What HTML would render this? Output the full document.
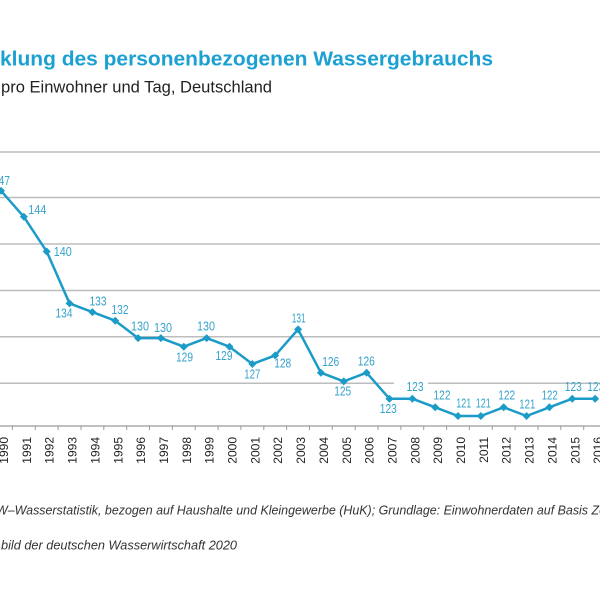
<!DOCTYPE html>
<html><head><meta charset="utf-8"><style>
html,body{margin:0;padding:0;background:#fff;}
svg{display:block;}
</style></head><body>
<svg width="600" height="600" viewBox="0 0 600 600" xmlns="http://www.w3.org/2000/svg" font-family="Liberation Sans, sans-serif">
<rect width="600" height="600" fill="#fff"/>
<text x="0" y="65.5" font-size="20" font-weight="bold" fill="#1ba0d2" textLength="493" lengthAdjust="spacingAndGlyphs">klung des personenbezogenen Wassergebrauchs</text>
<text x="1" y="92.5" font-size="17" fill="#222" textLength="271" lengthAdjust="spacingAndGlyphs">pro Einwohner und Tag, Deutschland</text>
<g stroke="#bdbdbd" stroke-width="1.5">
<line x1="0" y1="152" x2="600" y2="152"/>
<line x1="0" y1="197.5" x2="600" y2="197.5"/>
<line x1="0" y1="244" x2="600" y2="244"/>
<line x1="0" y1="290.5" x2="600" y2="290.5"/>
<line x1="0" y1="336.7" x2="600" y2="336.7"/>
<line x1="0" y1="383.3" x2="600" y2="383.3"/>
</g>
<line x1="0" y1="426" x2="600" y2="426" stroke="#9a9a9a" stroke-width="1.2"/>
<g stroke="#9a9a9a" stroke-width="1">
<line x1="12.4" y1="426" x2="12.4" y2="430"/><line x1="35.3" y1="426" x2="35.3" y2="430"/><line x1="58.1" y1="426" x2="58.1" y2="430"/><line x1="81" y1="426" x2="81" y2="430"/><line x1="103.8" y1="426" x2="103.8" y2="430"/><line x1="126.7" y1="426" x2="126.7" y2="430"/><line x1="149.5" y1="426" x2="149.5" y2="430"/><line x1="172.4" y1="426" x2="172.4" y2="430"/><line x1="195.2" y1="426" x2="195.2" y2="430"/><line x1="218.1" y1="426" x2="218.1" y2="430"/><line x1="240.9" y1="426" x2="240.9" y2="430"/><line x1="263.8" y1="426" x2="263.8" y2="430"/><line x1="286.6" y1="426" x2="286.6" y2="430"/><line x1="309.5" y1="426" x2="309.5" y2="430"/><line x1="332.3" y1="426" x2="332.3" y2="430"/><line x1="355.2" y1="426" x2="355.2" y2="430"/><line x1="378" y1="426" x2="378" y2="430"/><line x1="400.9" y1="426" x2="400.9" y2="430"/><line x1="423.7" y1="426" x2="423.7" y2="430"/><line x1="446.6" y1="426" x2="446.6" y2="430"/><line x1="469.4" y1="426" x2="469.4" y2="430"/><line x1="492.3" y1="426" x2="492.3" y2="430"/><line x1="515.1" y1="426" x2="515.1" y2="430"/><line x1="538" y1="426" x2="538" y2="430"/><line x1="560.8" y1="426" x2="560.8" y2="430"/><line x1="583.7" y1="426" x2="583.7" y2="430"/>
</g>
<g font-size="12" fill="#222" text-anchor="end">
<text transform="translate(8,437) rotate(-90)">1990</text>
<text transform="translate(30.85,437) rotate(-90)">1991</text>
<text transform="translate(53.7,437) rotate(-90)">1992</text>
<text transform="translate(76.55,437) rotate(-90)">1993</text>
<text transform="translate(99.4,437) rotate(-90)">1994</text>
<text transform="translate(122.25,437) rotate(-90)">1995</text>
<text transform="translate(145.1,437) rotate(-90)">1996</text>
<text transform="translate(167.95,437) rotate(-90)">1997</text>
<text transform="translate(190.8,437) rotate(-90)">1998</text>
<text transform="translate(213.65,437) rotate(-90)">1999</text>
<text transform="translate(236.5,437) rotate(-90)">2000</text>
<text transform="translate(259.35,437) rotate(-90)">2001</text>
<text transform="translate(282.2,437) rotate(-90)">2002</text>
<text transform="translate(305.05,437) rotate(-90)">2003</text>
<text transform="translate(327.9,437) rotate(-90)">2004</text>
<text transform="translate(350.75,437) rotate(-90)">2005</text>
<text transform="translate(373.6,437) rotate(-90)">2006</text>
<text transform="translate(396.45,437) rotate(-90)">2007</text>
<text transform="translate(419.3,437) rotate(-90)">2008</text>
<text transform="translate(442.15,437) rotate(-90)">2009</text>
<text transform="translate(465,437) rotate(-90)">2010</text>
<text transform="translate(487.85,437) rotate(-90)">2011</text>
<text transform="translate(510.7,437) rotate(-90)">2012</text>
<text transform="translate(533.55,437) rotate(-90)">2013</text>
<text transform="translate(556.4,437) rotate(-90)">2014</text>
<text transform="translate(579.25,437) rotate(-90)">2015</text>
<text transform="translate(602.1,437) rotate(-90)">2016</text>
</g>
<rect x="394" y="377" width="34" height="16" fill="#fff"/>
<polyline fill="none" stroke="#1b9bc8" stroke-width="2.5" stroke-linejoin="round" points="1,190.8 23.85,216.8 46.7,251.5 69.55,303.4 92.4,312.1 115.25,320.7 138.1,338.1 160.95,338.1 183.8,346.7 206.65,338.1 229.5,346.7 252.35,364 275.2,355.4 298.05,329.4 320.9,372.7 343.75,381.4 366.6,372.7 389.45,398.7 412.3,398.7 435.15,407.3 458,416 480.85,416 503.7,407.3 526.55,416 549.4,407.3 572.25,398.7 595.1,398.7"/>
<g fill="#1b9bc8">
<path d="M1,186.8l4,4l-4,4l-4,-4z"/><path d="M23.85,212.8l4,4l-4,4l-4,-4z"/><path d="M46.7,247.5l4,4l-4,4l-4,-4z"/><path d="M69.55,299.4l4,4l-4,4l-4,-4z"/><path d="M92.4,308.1l4,4l-4,4l-4,-4z"/><path d="M115.25,316.7l4,4l-4,4l-4,-4z"/><path d="M138.1,334.1l4,4l-4,4l-4,-4z"/><path d="M160.95,334.1l4,4l-4,4l-4,-4z"/><path d="M183.8,342.7l4,4l-4,4l-4,-4z"/><path d="M206.65,334.1l4,4l-4,4l-4,-4z"/><path d="M229.5,342.7l4,4l-4,4l-4,-4z"/><path d="M252.35,360l4,4l-4,4l-4,-4z"/><path d="M275.2,351.4l4,4l-4,4l-4,-4z"/><path d="M298.05,325.4l4,4l-4,4l-4,-4z"/><path d="M320.9,368.7l4,4l-4,4l-4,-4z"/><path d="M343.75,377.4l4,4l-4,4l-4,-4z"/><path d="M366.6,368.7l4,4l-4,4l-4,-4z"/><path d="M389.45,394.7l4,4l-4,4l-4,-4z"/><path d="M412.3,394.7l4,4l-4,4l-4,-4z"/><path d="M435.15,403.3l4,4l-4,4l-4,-4z"/><path d="M458,412l4,4l-4,4l-4,-4z"/><path d="M480.85,412l4,4l-4,4l-4,-4z"/><path d="M503.7,403.3l4,4l-4,4l-4,-4z"/><path d="M526.55,412l4,4l-4,4l-4,-4z"/><path d="M549.4,403.3l4,4l-4,4l-4,-4z"/><path d="M572.25,394.7l4,4l-4,4l-4,-4z"/><path d="M595.1,394.7l4,4l-4,4l-4,-4z"/>
</g>
<g font-size="12.5" fill="#35a3cc" text-anchor="middle">
<text x="1.5" y="185" textLength="17" lengthAdjust="spacingAndGlyphs">147</text>
<text x="37.3" y="214" textLength="18" lengthAdjust="spacingAndGlyphs">144</text>
<text x="62.8" y="256" textLength="18" lengthAdjust="spacingAndGlyphs">140</text>
<text x="64" y="317.3" textLength="17" lengthAdjust="spacingAndGlyphs">134</text>
<text x="98" y="305.3" textLength="17" lengthAdjust="spacingAndGlyphs">133</text>
<text x="120" y="314" textLength="17" lengthAdjust="spacingAndGlyphs">132</text>
<text x="140" y="330.7" textLength="18" lengthAdjust="spacingAndGlyphs">130</text>
<text x="163" y="332" textLength="18" lengthAdjust="spacingAndGlyphs">130</text>
<text x="184.5" y="361.7" textLength="17" lengthAdjust="spacingAndGlyphs">129</text>
<text x="206" y="330.7" textLength="18" lengthAdjust="spacingAndGlyphs">130</text>
<text x="224" y="360" textLength="17" lengthAdjust="spacingAndGlyphs">129</text>
<text x="252.3" y="378.3" textLength="16" lengthAdjust="spacingAndGlyphs">127</text>
<text x="282.7" y="367.3" textLength="17" lengthAdjust="spacingAndGlyphs">128</text>
<text x="298.7" y="322.5" textLength="14" lengthAdjust="spacingAndGlyphs">131</text>
<text x="330.7" y="366" textLength="17" lengthAdjust="spacingAndGlyphs">126</text>
<text x="342.7" y="395.7" textLength="17" lengthAdjust="spacingAndGlyphs">125</text>
<text x="366.3" y="365.7" textLength="17" lengthAdjust="spacingAndGlyphs">126</text>
<text x="388.3" y="413" textLength="17" lengthAdjust="spacingAndGlyphs">123</text>
<text x="415" y="391" textLength="17" lengthAdjust="spacingAndGlyphs">123</text>
<text x="442" y="399.3" textLength="17" lengthAdjust="spacingAndGlyphs">122</text>
<text x="463.7" y="407.7" textLength="15" lengthAdjust="spacingAndGlyphs">121</text>
<text x="483.3" y="407.7" textLength="15" lengthAdjust="spacingAndGlyphs">121</text>
<text x="506.7" y="399.3" textLength="17" lengthAdjust="spacingAndGlyphs">122</text>
<text x="527.3" y="408.3" textLength="16" lengthAdjust="spacingAndGlyphs">121</text>
<text x="549.7" y="399.3" textLength="16" lengthAdjust="spacingAndGlyphs">122</text>
<text x="573.3" y="391" textLength="17" lengthAdjust="spacingAndGlyphs">123</text>
<text x="595.7" y="391" textLength="17" lengthAdjust="spacingAndGlyphs">123</text>
</g>
<text x="-4" y="514.3" font-size="13" font-style="italic" fill="#333" textLength="610" lengthAdjust="spacingAndGlyphs">W–Wasserstatistik, bezogen auf Haushalte und Kleingewerbe (HuK); Grundlage: Einwohnerdaten auf Basis Ze</text>
<text x="1" y="549.3" font-size="13" font-style="italic" fill="#333" textLength="236" lengthAdjust="spacingAndGlyphs">bild der deutschen Wasserwirtschaft 2020</text>
</svg>
</body></html>
